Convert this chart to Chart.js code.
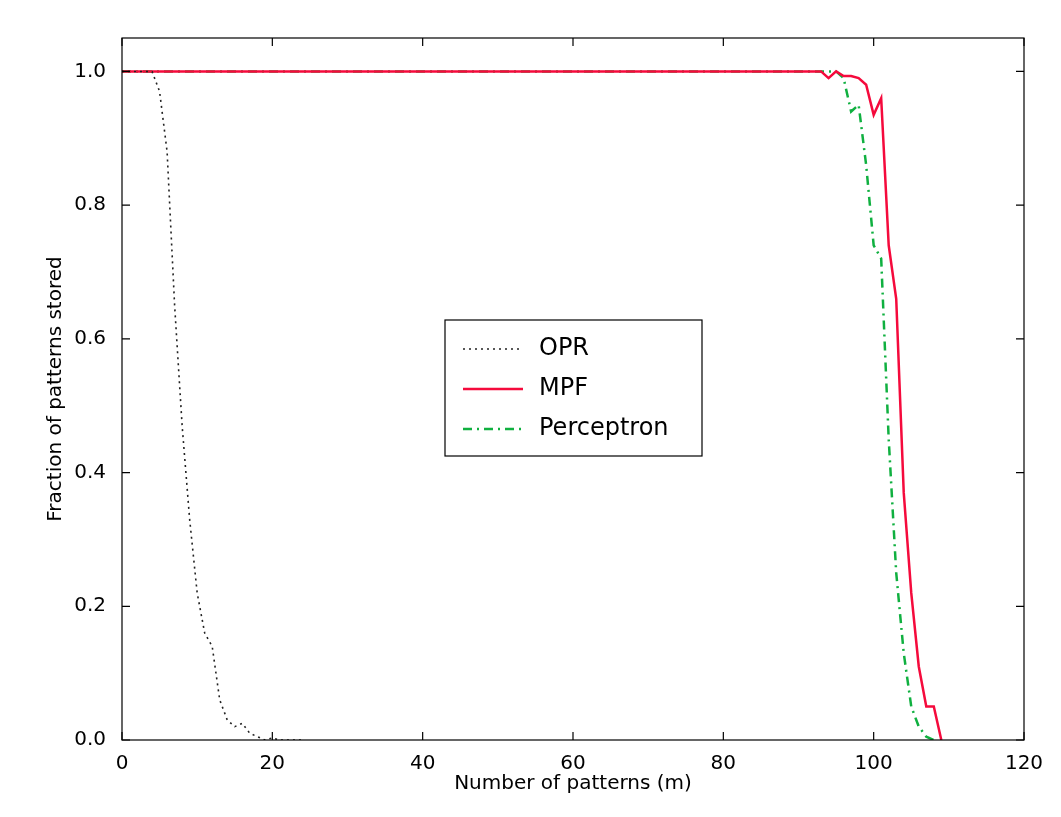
<!DOCTYPE html>
<html><head><meta charset="utf-8">
<script src="https://cdn.jsdelivr.net/npm/chart.js@4/dist/chart.umd.min.js"></script>
<style>html,body{margin:0;background:#fff}#wrap{width:1061px;height:817px}</style>
</head><body><div id="wrap"><canvas id="c"></canvas></div>
<script>
const oprM = [0,4,5,6,7,8,9,10,11,12,13,14,15,16,17,18,19,20,21,22,23,24];
const oprY = [1,1,0.97,0.88,0.65,0.47,0.33,0.22,0.16,0.14,0.06,0.03,0.02,0.025,0.01,0.005,0,0.003,0,0,0,0];
const mpfM = [0,93,94,95,96,97,98,99,100,101,102,103,104,105,106,107,108,109];
const mpfY = [1,1,0.99,1.0,0.993,0.993,0.99,0.98,0.935,0.96,0.74,0.66,0.37,0.22,0.11,0.05,0.05,0];
const perM = [0,95,96,97,98,99,100,101,102,103,104,105,106,107,108];
const perY = [1,1,0.99,0.94,0.95,0.86,0.74,0.72,0.45,0.25,0.13,0.05,0.02,0.005,0];
const xTicks = [0,20,40,60,80,100,120];
const yTicks = [0,0.2,0.4,0.6,0.8,1.0];

const pts = (m, y) => m.map((v, i) => ({x: v, y: y[i]}));
const font = {family: "DejaVu Sans", size: 20};

const frame = {
  id: "frame",
  afterDraw(chart) {
    const {ctx, chartArea: a, scales: {x, y}} = chart;
    ctx.save();
    ctx.strokeStyle = "#000"; ctx.lineWidth = 1.2;
    ctx.strokeRect(a.left, a.top, a.right - a.left, a.bottom - a.top);
    xTicks.forEach(t => {
      const px = x.getPixelForValue(t);
      ctx.beginPath(); ctx.moveTo(px, a.bottom); ctx.lineTo(px, a.bottom - 8);
      ctx.moveTo(px, a.top); ctx.lineTo(px, a.top + 8); ctx.stroke();
    });
    yTicks.forEach(t => {
      const py = y.getPixelForValue(t);
      ctx.beginPath(); ctx.moveTo(a.left, py); ctx.lineTo(a.left + 8, py);
      ctx.moveTo(a.right, py); ctx.lineTo(a.right - 8, py); ctx.stroke();
    });
    // legend box
    const bx = 445, by = 320, bw = 257, bh = 136;
    ctx.fillStyle = "#fff"; ctx.fillRect(bx, by, bw, bh);
    ctx.strokeRect(bx, by, bw, bh);
    ctx.font = "24px 'DejaVu Sans'"; ctx.textBaseline = "middle";
    chart.data.datasets.forEach((d, i) => {
      const ly = by + 29 + i * 40;
      ctx.strokeStyle = d.borderColor; ctx.lineWidth = d.borderWidth;
      ctx.setLineDash(d.borderDash || []);
      ctx.beginPath(); ctx.moveTo(bx + 18, ly); ctx.lineTo(bx + 78, ly); ctx.stroke();
      ctx.setLineDash([]);
      ctx.fillStyle = "#000"; ctx.fillText(d.label, bx + 94, ly);
    });
    ctx.restore();
  }
};

new Chart(document.getElementById("c"), {
  type: "line",
  data: {datasets: [
    {label: "OPR", data: pts(oprM, oprY), borderColor: "#222", borderWidth: 1.6, borderDash: [2, 4]},
    {label: "MPF", data: pts(mpfM, mpfY), borderColor: "#f50a3c", borderWidth: 2.5},
    {label: "Perceptron", data: pts(perM, perY), borderColor: "#10b040", borderWidth: 2.5, borderDash: [9, 5, 2, 5]}
  ]},
  options: {
    animation: false, responsive: true, maintainAspectRatio: false,
    elements: {point: {radius: 0}, line: {tension: 0}},
    layout: {padding: {top: 38, right: 37, left: 40, bottom: 17}},
    plugins: {legend: {display: false}, tooltip: {enabled: false}},
    scales: {
      x: {type: "linear", min: 0, max: 120, grid: {display: false}, border: {display: false},
          afterBuildTicks: s => { s.ticks = xTicks.map(v => ({value: v})); },
          afterFit: s => { s.height = 60; },
          ticks: {font, color: "#000", padding: 4},
          title: {display: true, text: "Number of patterns (m)", font, color: "#000", padding: {top: 0}}},
      y: {min: 0, max: 1.05, grid: {display: false}, border: {display: false},
          afterBuildTicks: s => { s.ticks = yTicks.map(v => ({value: v})); },
          afterFit: s => { s.width = 82; },
          ticks: {font, color: "#000", padding: 8, callback: v => v.toFixed(1)},
          title: {display: true, text: "Fraction of patterns stored", font, color: "#000", padding: {bottom: 0}}}
    }
  },
  plugins: [frame]
});
</script></body></html>
